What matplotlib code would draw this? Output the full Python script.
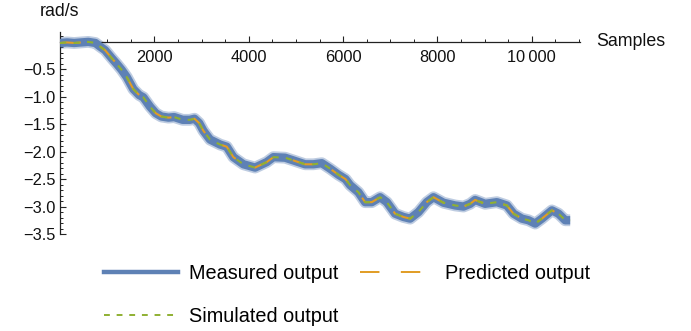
import matplotlib
matplotlib.use("Agg")
import matplotlib.pyplot as plt
from matplotlib.lines import Line2D
from matplotlib.ticker import MultipleLocator, FuncFormatter

plt.rcParams['font.family'] = ['Liberation Sans', 'DejaVu Sans']

# data (samples, rad/s)
samples = [0, 150, 300, 450, 600, 750, 848, 954, 1100, 1202, 1307, 1414, 1554,
           1680, 1766, 1908, 2030, 2150, 2300, 2420, 2600, 2750, 2850, 2950, 3039,
           3180, 3392, 3534, 3675, 3887, 4134, 4381, 4523, 4770, 4947, 5194, 5371,
           5548, 5724, 5900, 6050, 6148, 6324, 6466, 6607, 6784, 6926, 7102, 7278,
           7420, 7597, 7773, 7915, 8127, 8374, 8551, 8692, 8798, 9010, 9258, 9470,
           9611, 9788, 9929, 10070, 10212, 10424, 10565, 10707, 10812]
output = [-0.02, -0.01, -0.02, -0.01, 0.00, -0.02, -0.085, -0.15, -0.30, -0.40, -0.51,
          -0.64, -0.86, -0.97, -1.01, -1.18, -1.30, -1.36, -1.38, -1.37, -1.42, -1.42,
          -1.40, -1.48, -1.62, -1.78, -1.87, -1.91, -2.10, -2.23, -2.29, -2.19, -2.10,
          -2.11, -2.16, -2.23, -2.23, -2.21, -2.31, -2.42, -2.50, -2.61, -2.74, -2.92,
          -2.92, -2.83, -2.92, -3.13, -3.19, -3.22, -3.10, -2.92, -2.83, -2.93, -2.98,
          -3.00, -2.95, -2.88, -2.95, -2.92, -2.98, -3.13, -3.22, -3.25, -3.31, -3.22,
          -3.07, -3.13, -3.25, -3.25]

x_ticks = [2000, 4000, 6000, 8000, 10000]
y_ticks = [-0.5, -1.0, -1.5, -2.0, -2.5, -3.0, -3.5]

BLUE = '#5E81B5'
ORANGE = '#E19C24'
GREEN = '#8FB032'

fig = plt.figure(figsize=(6.91, 3.31), dpi=100)
ax = fig.add_axes([60/691, 1-234/331, 520/691, 202/331])

ax.plot(samples, output, color=BLUE, lw=8.5, alpha=0.4, solid_capstyle='butt',
        solid_joinstyle='round', zorder=2)
ax.plot(samples, output, color=BLUE, lw=6.0, solid_capstyle='butt',
        solid_joinstyle='round', zorder=3)
ax.plot(samples, output, color=ORANGE, lw=1.5, dashes=(10, 10), zorder=4)
ax.plot(samples, output, color=GREEN, lw=1.5, dashes=(3, 3.5), zorder=5)

ax.set_xlim(0, 11020)
ax.set_ylim(-3.5, 0.18)

ax.spines['top'].set_visible(False)
ax.spines['right'].set_visible(False)
ax.spines['bottom'].set_position(('data', 0))
for s in ('left', 'bottom'):
    ax.spines[s].set_color('#222222')
    ax.spines[s].set_linewidth(0.9)

ax.set_xticks(x_ticks)
ax.set_yticks(y_ticks)
ax.xaxis.set_minor_locator(MultipleLocator(500))
ax.yaxis.set_minor_locator(MultipleLocator(0.1))

def xfmt(v, pos):
    v = int(round(v))
    if v >= 10000:
        return f"{v // 1000}\u2009{v % 1000:03d}"
    return str(v)

ax.xaxis.set_major_formatter(FuncFormatter(xfmt))
ax.yaxis.set_major_formatter(FuncFormatter(lambda v, p: f"{v:.1f}".replace('-', '\u2212')))

ax.tick_params(axis='both', which='major', direction='in', length=4, width=0.8,
               color='#222222', labelsize=11.8, labelcolor='#111111')
ax.tick_params(axis='both', which='minor', direction='in', length=2.3, width=0.7,
               color='#222222')
ax.tick_params(axis='x', which='major', pad=6)
ax.tick_params(axis='y', which='major', pad=3)

fig.text(59.5/691, 1-12/331, 'rad/s', ha='center', va='center', fontsize=12.8, color='#111111')
fig.text(596/691, 1-42/331, 'Samples', ha='left', va='center', fontsize=12.8, color='#111111')

h_meas = Line2D([], [], color=BLUE, lw=3.2)
h_pred = Line2D([], [], color=ORANGE, lw=1.4, dashes=(10, 11))
h_sim = Line2D([], [], color=GREEN, lw=1.4, dashes=(3, 3.5))
fig.legend([h_meas, h_sim, h_pred],
           ['Measured output', 'Simulated output', 'Predicted output'],
           ncol=2, loc='upper left', bbox_to_anchor=(88/691, 1-248/331),
           frameon=False, fontsize=14.3, handlelength=3.75, handletextpad=0.55,
           labelspacing=1.2, columnspacing=1.05, borderpad=0.3)

fig.savefig('out.png', dpi=100)
